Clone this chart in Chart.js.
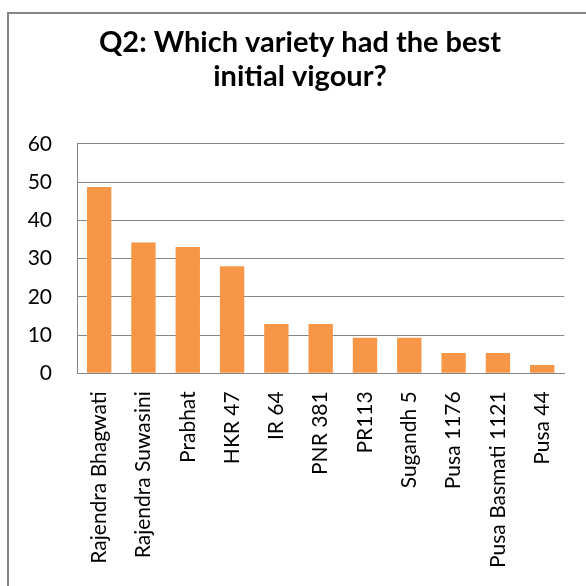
<!DOCTYPE html>
<html>
<head>
<meta charset="utf-8">
<script src="https://cdn.jsdelivr.net/npm/chart.js@4/dist/chart.umd.min.js"></script>
<style>
  html, body { margin: 0; padding: 0; background: #fff; overflow: hidden; }
  #wrap { position: relative; width: 586px; height: 586px; }
  #frame { position: absolute; left: 7px; top: 12px; width: 700px; height: 700px;
           border-left: 2px solid #868686; border-top: 2px solid #868686; pointer-events: none; }
  canvas { position: absolute; left: 0; top: 0; }
</style>
</head>
<body>
<div id="wrap">
  <canvas id="c" width="586" height="586"></canvas>
  <div id="frame"></div>
</div>
<script>
const titleLines = ["Q2: Which variety had the best", "initial vigour?"];
const categories = ["Rajendra Bhagwati", "Rajendra Suwasini", "Prabhat", "HKR 47", "IR 64", "PNR 381", "PR113", "Sugandh 5", "Pusa 1176", "Pusa Basmati 1121", "Pusa 44"];
const values = [48.7, 34.2, 33.0, 28.0, 12.9, 12.9, 9.3, 9.3, 5.3, 5.3, 2.2];
const yTicks = [0, 10, 20, 30, 40, 50, 60];

const FONT = "Lato, 'Liberation Sans', sans-serif";

// shift the title block so it is centred over the framed chart box
const titleShift = {
  id: 'titleShift',
  afterLayout(chart) {
    const t = chart.titleBlock;
    if (t) { t.left = 27; t.right = 573; }
  }
};

new Chart(document.getElementById('c'), {
  type: 'bar',
  data: {
    labels: categories,
    datasets: [{
      data: values,
      backgroundColor: '#F79646',
      borderWidth: 0,
      barPercentage: 0.55,
      categoryPercentage: 1.0
    }]
  },
  plugins: [titleShift],
  options: {
    responsive: false,
    animation: false,
    layout: { padding: { left: 0, right: 13, top: 0, bottom: 0 } },
    plugins: {
      legend: { display: false },
      tooltip: { enabled: false },
      title: {
        display: true,
        text: titleLines,
        color: '#000',
        font: { family: FONT, size: 29, weight: 'bold', lineHeight: 1.17 },
        padding: { top: 26, bottom: 50 }
      }
    },
    scales: {
      y: {
        min: 0, max: 60,
        afterBuildTicks: (axis) => { axis.ticks = yTicks.map(v => ({ value: v })); },
        afterFit: (axis) => { axis.width = 77; },
        ticks: { color: '#000', font: { family: FONT, size: 21 }, padding: 25 },
        grid: { color: '#868686', lineWidth: 1, drawTicks: false },
        border: { display: true, color: '#868686', width: 1 }
      },
      x: {
        afterFit: (axis) => { axis.height = 212.7; },
        ticks: { color: '#000', font: { family: FONT, size: 21 }, minRotation: 90, maxRotation: 90, padding: 18, autoSkip: false },
        grid: { display: false, drawTicks: false },
        border: { display: true, color: '#868686', width: 1 }
      }
    }
  }
});
</script>
</body>
</html>
